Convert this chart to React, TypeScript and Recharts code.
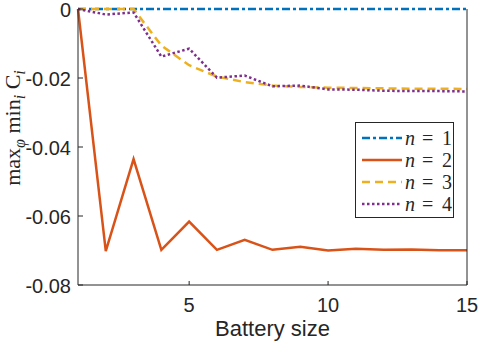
import { LineChart, Line, XAxis, YAxis, Legend } from 'recharts';

const batterySize = [1, 2, 3, 4, 5, 6, 7, 8, 9, 10, 11, 12, 13, 14, 15];
const n1 = [0, 0, 0, 0, 0, 0, 0, 0, 0, 0, 0, 0, 0, 0, 0];
const n2 = [0, -0.0702, -0.0435, -0.0698, -0.0616, -0.0698, -0.0669, -0.0698, -0.0689, -0.07, -0.0695, -0.0698, -0.0697, -0.0699, -0.0699];
const n3 = [0, 0, 0, -0.0106, -0.0163, -0.0196, -0.0212, -0.0222, -0.0226, -0.0228, -0.0229, -0.023, -0.0231, -0.0231, -0.0232];
const n4 = [0, -0.0016, -0.001, -0.0138, -0.0115, -0.0199, -0.0193, -0.0224, -0.0222, -0.0233, -0.0234, -0.0237, -0.0238, -0.0238, -0.0239];

const xTicks = [5, 10, 15];
const yTicks = [-0.08, -0.06, -0.04, -0.02, 0];
const yTickLabels = ['-0.08', '-0.06', '-0.04', '-0.02', '0'];

const series = [
  { key: 'n1', label: '1', color: '#0072BD', dash: '8 3 3 3' },
  { key: 'n2', label: '2', color: '#D95319', dash: undefined },
  { key: 'n3', label: '3', color: '#EDB120', dash: '8 5' },
  { key: 'n4', label: '4', color: '#7E2F8E', dash: '2.5 2.5' },
];

const data = batterySize.map((b, i) => ({ b, n1: n1[i], n2: n2[i], n3: n3[i], n4: n4[i] }));

const INK = '#262626';
const SANS = '"Liberation Sans", Arial, Helvetica, sans-serif';
const SERIF = '"Liberation Serif", "Times New Roman", serif';

const YTick = (props: any) => {
  const { x, y, payload } = props;
  const idx = yTicks.indexOf(payload.value);
  return (
    <g>
      <text x={x} y={y} dy="0.42em" textAnchor="end" fontFamily={SANS} fontSize={20} fill={INK}>
        {yTickLabels[idx]}
      </text>
      <line x1={x + 7} x2={x + 12} y1={y} y2={y} stroke={INK} strokeWidth={1} />
    </g>
  );
};

const RightTick = (props: any) => {
  const { x, y } = props;
  return <line x1={x - 5} x2={x} y1={y} y2={y} stroke={INK} strokeWidth={1} />;
};

const XTick = (props: any) => {
  const { x, y, payload } = props;
  return (
    <g>
      <text x={x} y={y} dy="0.71em" textAnchor="middle" fontFamily={SANS} fontSize={20} fill={INK}>
        {payload.value}
      </text>
      <line x1={x} x2={x} y1={y - 13} y2={y - 17} stroke={INK} strokeWidth={1} />
    </g>
  );
};

const YLabel = (props: any) => {
  const { viewBox } = props;
  const cx = viewBox.x + 20;
  const cy = viewBox.y + viewBox.height / 2 - 19;
  return (
    <text
      x={cx}
      y={cy}
      transform={`rotate(-90, ${cx}, ${cy})`}
      textAnchor="middle"
      fontFamily={SERIF}
      fontSize={22}
      fill={INK}
    >
      <tspan>max</tspan>
      <tspan dy={5} fontSize={16} fontStyle="italic">φ</tspan>
      <tspan dy={-5}> min</tspan>
      <tspan dy={5} fontSize={16} fontStyle="italic">i</tspan>
      <tspan dy={-5}> C</tspan>
      <tspan dy={5} fontSize={16} fontStyle="italic">i</tspan>
    </text>
  );
};

const renderLegend = () => (
  <svg width={99} height={96} style={{ display: 'block' }}>
    <rect x={0.5} y={0.5} width={98} height={95} fill="#fff" stroke={INK} strokeWidth={1} />
    {series.map((s, i) => {
      const cy = 16 + i * 22;
      return (
        <g key={s.key}>
          <line x1={7} x2={47} y1={cy} y2={cy} stroke={s.color} strokeWidth={2.5} strokeDasharray={s.dash} />
          <text y={cy} dy="0.34em" fontFamily={SERIF} fontSize={20} fill={INK}>
            <tspan x={50} fontStyle="italic">n</tspan>
            <tspan x={67}>=</tspan>
            <tspan x={87}>{s.label}</tspan>
          </text>
        </g>
      );
    })}
  </svg>
);

export default function App() {
  return (
    <div style={{ position: 'absolute', left: 0, top: 0, background: '#fff' }}>
      <LineChart width={479} height={345} data={data} margin={{ top: 9, right: 0, bottom: 0, left: 0 }}>
        <XAxis
          dataKey="b"
          type="number"
          domain={[1, 15]}
          ticks={xTicks}
          height={60}
          tickSize={0}
          tickMargin={13}
          tickLine={false}
          tick={<XTick />}
          axisLine={{ stroke: INK, strokeWidth: 1 }}
          label={{ value: 'Battery size', position: 'insideBottom', offset: 9, fontFamily: SANS, fontSize: 22, fill: INK }}
        />
        <YAxis
          yAxisId="left"
          type="number"
          domain={[-0.08, 0]}
          ticks={yTicks}
          width={78}
          tickSize={0}
          tickMargin={7}
          tickLine={false}
          tick={<YTick />}
          axisLine={{ stroke: INK, strokeWidth: 1 }}
          label={{ content: <YLabel /> }}
        />
        <YAxis
          yAxisId="right"
          orientation="right"
          type="number"
          domain={[-0.08, 0]}
          ticks={yTicks}
          width={12}
          tickSize={0}
          tickMargin={0}
          tickLine={false}
          tick={<RightTick />}
          axisLine={{ stroke: INK, strokeWidth: 1 }}
        />
        <Legend
          layout="vertical"
          align="center"
          verticalAlign="middle"
          content={renderLegend}
          wrapperStyle={{ position: 'absolute', left: 355, top: 122, width: 99, height: 96 }}
        />
        {series.map((s) => (
          <Line
            key={s.key}
            yAxisId="left"
            type="linear"
            dataKey={s.key}
            stroke={s.color}
            strokeWidth={2.5}
            strokeDasharray={s.dash}
            dot={false}
            activeDot={false}
            isAnimationActive={false}
          />
        ))}
      </LineChart>
    </div>
  );
}
